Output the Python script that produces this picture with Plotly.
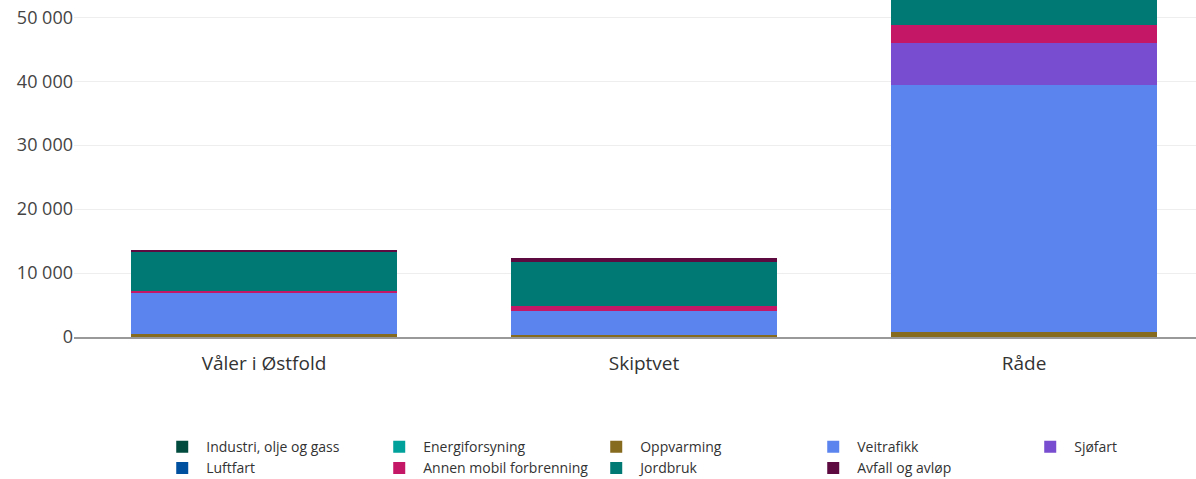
import plotly.graph_objects as go

categories = ["Våler i Østfold", "Skiptvet", "Råde"]
series_names = ["Industri, olje og gass", "Energiforsyning", "Oppvarming", "Veitrafikk",
                "Sjøfart", "Luftfart", "Annen mobil forbrenning", "Jordbruk", "Avfall og avløp"]
industri = [0, 0, 0]
energi = [0, 0, 0]
oppvarming = [530, 300, 730]
veitrafikk = [6360, 3760, 38750]
sjofart = [0, 0, 6530]
luftfart = [0, 0, 0]
annen_mobil = [375, 730, 2820]
jordbruk = [6110, 6940, 6500]
avfall = [200, 580, 300]
colors = ["#004b3e", "#00a19a", "#866a1e", "#5b84ee", "#784dcf", "#0050a0",
          "#c41766", "#007874", "#5c0a40"]

values = [industri, energi, oppvarming, veitrafikk, sjofart, luftfart, annen_mobil, jordbruk, avfall]

fig = go.Figure()
for name, vals, col in zip(series_names, values, colors):
    fig.add_trace(go.Bar(x=categories, y=vals, name=name, marker=dict(color=col, line=dict(width=0)),
                         width=0.7))

fig.update_layout(
    barmode="stack",
    width=1196, height=479,
    margin=dict(l=74, r=0, t=0, b=142, autoexpand=False),
    paper_bgcolor="white", plot_bgcolor="white",
    font=dict(family="Open Sans", color="#444"),
    separators=", ",
    showlegend=True,
    legend=dict(orientation="h", xref="container", yref="container", x=0.1323, y=0.1,
                xanchor="left", yanchor="top", entrywidth=164, entrywidthmode="pixels",
                itemwidth=38, traceorder="normal", font=dict(size=14, color="#333")),
    xaxis=dict(range=[-0.5, 2.4526], showgrid=False, showline=True, linecolor="#999", linewidth=2,
               tickfont=dict(size=19, color="#333"), ticklabelstandoff=8, automargin=False),
    yaxis=dict(range=[0, 52700], dtick=10000, showgrid=True, gridcolor="#eeeeee", gridwidth=1,
               zeroline=False, showline=False, tickformat=",d", automargin=False,
               tickfont=dict(size=18, color="#444")),
)

fig.write_html("out.html", config={"displayModeBar": False},
               post_script="document.body.style.margin='0';document.body.style.overflow='hidden';")
